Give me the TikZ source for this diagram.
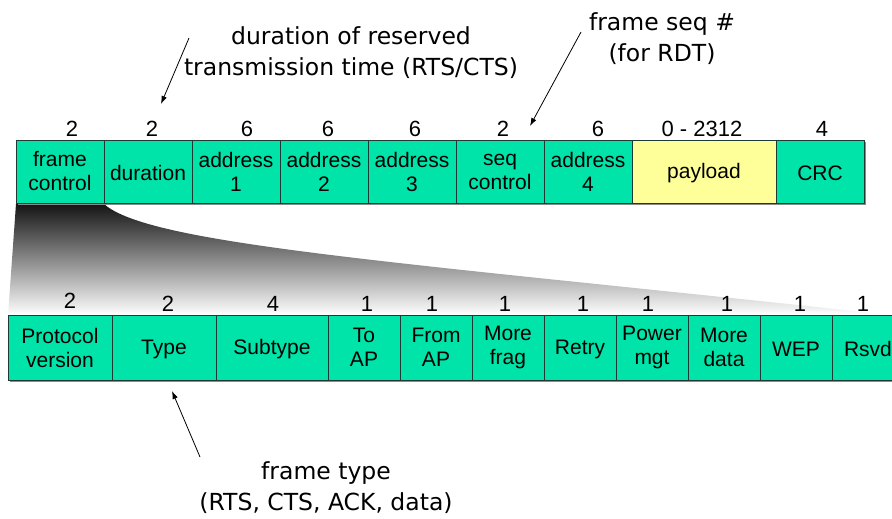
\documentclass[tikz,border=0pt]{standalone}
\usepackage{fontspec}
\setmainfont{Liberation Sans}
\newfontfamily\notefont{DejaVu Sans}
\usetikzlibrary{arrows.meta}

\definecolor{fieldgreen}{HTML}{00E3A9}
\definecolor{payloadyellow}{HTML}{FFFF99}
\definecolor{edgecol}{HTML}{1E3A32}
\definecolor{shadowgray}{HTML}{8A8A8A}

\begin{document}
\begin{tikzpicture}[x=1pt,y=-1pt,
  fld/.style={draw=edgecol, line width=0.9pt, fill=fieldgreen, anchor=north west,
    inner sep=0pt, outer sep=0pt, align=center, font=\fontsize{21}{24}\selectfont,
    execute at begin node={\rule{0pt}{18.5pt}}},
  toprow/.style={fld, minimum height=63pt},
  botrow/.style={fld, minimum height=65pt},
  bits/.style={anchor=base, inner sep=0pt, font=\fontsize{22}{24}\selectfont},
  note/.style={align=center, inner sep=0pt, font=\notefont\fontsize{23.5}{31}\selectfont},
  arr/.style={-{Latex[length=8pt,width=5.5pt]}, line width=0.8pt}]

\useasboundingbox (0,0) rectangle (892,519);
\clip (0,0) rectangle (892,519);

% funnel from the frame-control field down to its sub-fields
\shade[top color=black!92, bottom color=white]
  (16,204) -- (104,204) .. controls (150,245) and (400,262) .. (892,315)
  -- (8,315) -- cycle;

% drop shadows under both rows
\fill[shadowgray] (17.5,141.5) rectangle (865.5,204.5);
\fill[shadowgray] (9.5,316.5) rectangle (905.5,381.5);

% 802.11 frame fields
\node[toprow, minimum width=88pt] (fc)   at (16,140)  {frame\\control};
\node[toprow, minimum width=88pt] (dur)  at (104,140) {duration};
\node[toprow, minimum width=88pt] (a1)   at (192,140) {address\\1};
\node[toprow, minimum width=88pt] (a2)   at (280,140) {address\\2};
\node[toprow, minimum width=88pt] (a3)   at (368,140) {address\\3};
\node[toprow, minimum width=88pt] (seq)  at (456,140) {seq\\control};
\node[toprow, minimum width=88pt] (a4)   at (544,140) {address\\4};
\node[toprow, minimum width=144pt, fill=payloadyellow] (pay) at (632,140) {payload};
\node[toprow, minimum width=88pt] (crc)  at (776,140) {CRC};

% field lengths (bytes)
\node[bits] (n1) at (72,136.5)  {2};
\node[bits] (n2) at (152,136.5) {2};
\node[bits] (n3) at (247,136.5) {6};
\node[bits] (n4) at (328,136.5) {6};
\node[bits] (n5) at (415,136.5) {6};
\node[bits] (n6) at (503,136.5) {2};
\node[bits] (n7) at (598,136.5) {6};
\node[bits] (n8) at (702,136.5) {0 - 2312};
\node[bits] (n9) at (822,136.5) {4};

% frame control sub-fields
\node[botrow, minimum width=104pt] (pv)   at (8,315)   {Protocol\\version};
\node[botrow, minimum width=104pt] (typ)  at (112,315) {Type};
\node[botrow, minimum width=112pt] (sub)  at (216,315) {Subtype};
\node[botrow, minimum width=72pt]  (toap) at (328,315) {To\\AP};
\node[botrow, minimum width=72pt]  (frap) at (400,315) {From\\AP};
\node[botrow, minimum width=72pt]  (mf)   at (472,315) {More\\frag};
\node[botrow, minimum width=72pt]  (rty)  at (544,315) {Retry};
\node[botrow, minimum width=72pt]  (pm)   at (616,315) {Power\\mgt};
\node[botrow, minimum width=72pt]  (md)   at (688,315) {More\\data};
\node[botrow, minimum width=72pt]  (wep)  at (760,315) {WEP};
\node[botrow, minimum width=72pt]  (rsv)  at (832,315) {Rsvd};

% sub-field lengths (bits)
\node[bits] (b1)  at (70,308)  {2};
\node[bits] (b2)  at (168,311) {2};
\node[bits] (b3)  at (273,311) {4};
\node[bits] (b4)  at (367,311) {1};
\node[bits] (b5)  at (432,311) {1};
\node[bits] (b6)  at (505,311) {1};
\node[bits] (b7)  at (583,311) {1};
\node[bits] (b8)  at (648,311) {1};
\node[bits] (b9)  at (727,311) {1};
\node[bits] (b10) at (800,311) {1};
\node[bits] (b11) at (863,311) {1};

% annotations
\node[note] (durnote)  at (351,53)  {duration of reserved\\transmission time (RTS/CTS)};
\node[note] (seqnote)  at (662,39)  {frame seq \#\\(for RDT)};
\node[note] (typenote) at (326,488) {frame type\\(RTS, CTS, ACK, data)};

\coordinate (durtail) at (189,38);
\coordinate (durhead) at (161,104);
\coordinate (seqtail) at (581,32);
\coordinate (seqhead) at (530,126);
\coordinate (typtail) at (200,457);
\coordinate (typhead) at (172,391);

\draw[arr] (durtail) -- (durhead);
\draw[arr] (seqtail) -- (seqhead);
\draw[arr] (typtail) -- (typhead);
\end{tikzpicture}
\end{document}
